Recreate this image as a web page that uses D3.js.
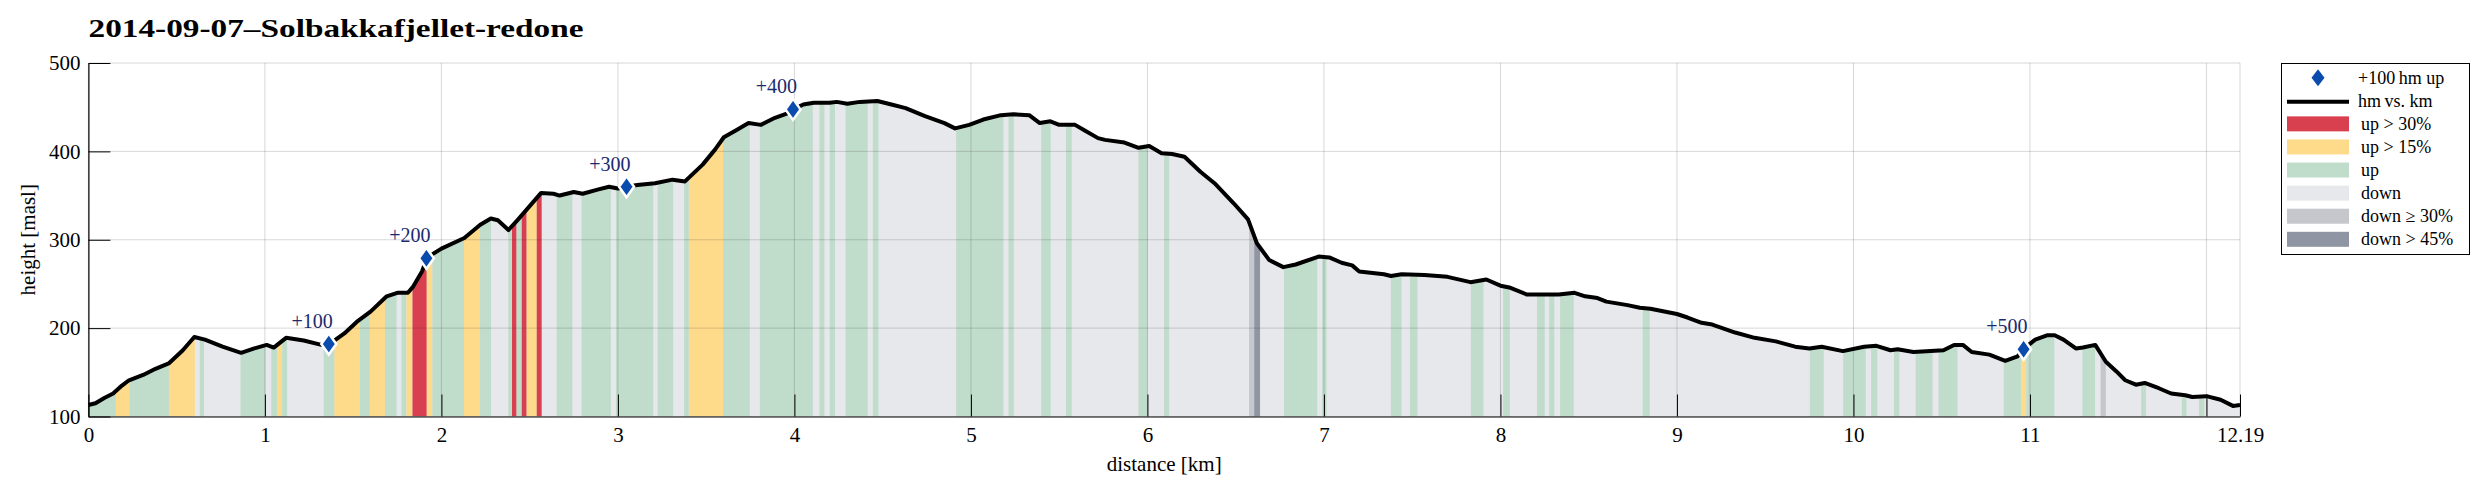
<!DOCTYPE html>
<html><head><meta charset="utf-8">
<script src="https://cdn.jsdelivr.net/npm/d3@7"></script>
<style>body{margin:0;background:#fff;} text{font-family:"Liberation Serif","DejaVu Serif",serif;}</style>
</head><body><svg id="c" width="2487" height="493"></svg>
<script>
// ---- data ----
const distKm = [0,0.04,0.09,0.14,0.19,0.23,0.31,0.38,0.455,0.535,0.60,0.66,0.76,0.865,0.94,1.01,1.05,1.12,1.22,1.32,1.36,1.45,1.52,1.60,1.69,1.75,1.81,1.84,1.89,1.92,2.00,2.13,2.22,2.28,2.32,2.38,2.43,2.50,2.565,2.635,2.67,2.75,2.80,2.89,2.95,3.00,3.05,3.11,3.21,3.31,3.38,3.48,3.55,3.60,3.67,3.74,3.81,3.89,3.96,3.99,4.05,4.11,4.20,4.24,4.30,4.37,4.47,4.55,4.63,4.74,4.85,4.91,4.99,5.07,5.17,5.24,5.33,5.39,5.45,5.50,5.59,5.65,5.72,5.76,5.87,5.95,6.01,6.08,6.14,6.21,6.30,6.38,6.49,6.57,6.62,6.69,6.77,6.84,6.97,7.03,7.10,7.16,7.20,7.34,7.38,7.44,7.57,7.70,7.83,7.92,8.00,8.05,8.15,8.24,8.33,8.42,8.48,8.55,8.60,8.72,8.79,8.85,9.00,9.06,9.14,9.20,9.33,9.44,9.56,9.67,9.75,9.82,9.94,10.06,10.13,10.21,10.25,10.34,10.51,10.57,10.62,10.67,10.77,10.86,10.93,10.96,11.03,11.10,11.14,11.19,11.26,11.30,11.37,11.43,11.49,11.54,11.60,11.65,11.73,11.80,11.88,11.92,12.00,12.08,12.15,12.19];
const heightM = [113,115,121,126,135,141,147,154,160,175,190,187,179,172,177,181,178,189,186,181,181,194,207,219,236,240,240,247,264,280,290,302,317,324,322,311,322,338,353,352,350,354,352,357,360,358,360,362,364,368,366,385,402,416,424,432,430,438,443,447,453,455,455,456,454,456,457,453,449,440,432,426,430,436,441,442,441,432,434,430,430,423,415,413,410,404,406,398,397,394,377,364,341,323,296,277,269,272,281,280,274,271,264,261,259,261,260,258,252,255,248,246,238,238,238,240,236,234,230,226,223,222,216,212,206,204,195,189,185,179,177,179,174,179,180,175,176,173,175,181,181,173,170,163,168,176,187,192,192,187,177,178,181,162,151,141,136,138,132,126,124,122,123,119,112,113];

const bandFrom = [0,0.156,0.232,0.456,0.631,0.862,1.036,1.07,1.098,1.333,1.394,1.537,1.595,1.68,1.774,1.802,1.836,1.917,1.949,2.128,2.219,2.379,2.40,2.426,2.455,2.483,2.54,2.653,2.794,2.989,3.225,3.375,3.402,3.596,3.804,4.142,4.20,4.29,4.444,4.916,5.213,5.398,5.539,5.949,6.094,6.576,6.605,6.774,6.99,7.379,7.487,7.832,8.015,8.207,8.276,8.338,8.806,9.753,9.942,10.10,10.23,10.352,10.482,10.851,10.951,10.979,11.297,11.40,11.63,11.86,11.958];
const bandTo   = [0.156,0.232,0.456,0.603,0.655,1.004,1.07,1.098,1.126,1.394,1.537,1.595,1.68,1.746,1.802,1.836,1.917,1.949,2.128,2.219,2.281,2.40,2.426,2.455,2.483,2.54,2.568,2.742,2.96,3.20,3.313,3.402,3.596,3.747,4.104,4.17,4.23,4.415,4.476,5.184,5.243,5.452,5.571,6.002,6.123,6.605,6.638,6.962,7.015,7.44,7.53,7.904,8.053,8.251,8.305,8.415,8.846,9.832,10.07,10.135,10.26,10.448,10.589,10.951,10.979,11.138,11.369,11.43,11.657,11.887,11.988];
const bandType = ["up","up15","up","up15","up","up","up","up15","up","up","up15","up","up15","up","up","up15","up30","up15","up","up15","up","up","up30","up","up30","up15","up30","up","up","up","up","up","up15","up","up","up","up","up","up","up","up","up","up","up","up","down30","down45","up","up","up","up","up","up","up","up","up","up","up","up","up","up","up","up","up","up15","up","up","down30","up","up","up"];

const markerKm = [1.362,1.915,3.049,3.992,10.964];
const markerH  = [182,279,360,447.5,176];
const markerLabel = ["+100","+200","+300","+400","+500"];

const xTicks = [0,1,2,3,4,5,6,7,8,9,10,11,12,12.19];
const xTickLabels = ["0","1","2","3","4","5","6","7","8","9","10","11","","12.19"];
const yTicks = [100,200,300,400,500];

const legendLabels = ["+100\u2009hm up","hm\u2009vs. km","up > 30%","up > 15%","up","down","down \u2265 30%","down > 45%"];
const legendKeys = ["marker","line","up30","up15","up","down","down30","down45"];

const colors = {up30:"#D9404F", up15:"#FEDA8B", up:"#C0DCCB", down:"#E7E8EB", down30:"#C5C7CD", down45:"#8F95A2"};

// ---- chart ----
const svg = d3.select("#c");
const x = d3.scaleLinear().domain([0,12.19]).range([88.4,2240]);
const y = d3.scaleLinear().domain([100,500]).range([416.5,63]);

const pts = distKm.map((d,i)=>[d,heightM[i]]);
const area = d3.area().x(d=>x(d[0])).y0(y(100)).y1(d=>y(d[1]));
const line = d3.line().x(d=>x(d[0])).y(d=>y(d[1]));

svg.append("defs").append("clipPath").attr("id","under").append("path").attr("d",area(pts));

const g = svg.append("g").attr("clip-path","url(#under)");
g.append("rect").attr("x",x(0)).attr("y",y(500)).attr("width",x(12.19)-x(0)).attr("height",y(100)-y(500)).attr("fill",colors.down);
g.selectAll("rect.band").data(bandFrom.map((f,i)=>({f,t:bandTo[i],c:bandType[i]}))).enter()
  .append("rect").attr("class","band")
  .attr("x",d=>x(d.f)).attr("width",d=>x(d.t)-x(d.f))
  .attr("y",y(500)).attr("height",y(100)-y(500))
  .attr("fill",d=>colors[d.c]);

// grid
const grid = svg.append("g").attr("stroke","#262626").attr("stroke-opacity",0.18).attr("stroke-width",1);
yTicks.forEach(t=>grid.append("line").attr("x1",x(0)).attr("x2",x(12.19)).attr("y1",y(t)).attr("y2",y(t)));
xTicks.forEach(t=>grid.append("line").attr("x1",x(t)).attr("x2",x(t)).attr("y1",y(500)).attr("y2",y(100)));

// profile line
svg.append("path").attr("d",line(pts)).attr("fill","none").attr("stroke","#000").attr("stroke-width",4).attr("stroke-linejoin","round");

// axes
const xAxis = d3.axisBottom(x).tickValues(xTicks).tickFormat((d,i)=>xTickLabels[i]).tickSizeInner(-22).tickSizeOuter(0).tickPadding(8);
const ax = svg.append("g").attr("transform",`translate(0,${y(100)})`).call(xAxis);
const yAxis = d3.axisLeft(y).tickValues(yTicks).tickFormat(d3.format("d")).tickSizeInner(-22).tickSizeOuter(0).tickPadding(8);
const ay = svg.append("g").attr("transform",`translate(${x(0)},0)`).call(yAxis);
[ax,ay].forEach(a=>{
  a.selectAll("text").attr("font-family","Liberation Serif").attr("font-size",21).attr("fill","#000");
  a.select(".domain").attr("stroke","#000").attr("stroke-width",1.2);
  a.selectAll(".tick line").attr("stroke","#000").attr("stroke-width",1);
});
ax.selectAll(".tick text").attr("dy","0.9em").attr("y",7);
ay.selectAll(".tick text").attr("x",-8);

// markers
const diamond = "M0,-10.5L7.5,0L0,10.5L-7.5,0Z";
const mk = svg.append("g");
markerKm.forEach((k,i)=>{
  mk.append("path").attr("d",diamond).attr("transform",`translate(${x(k)},${y(markerH[i])})`)
    .attr("fill","#0A4CAE").attr("stroke","#fff").attr("stroke-width",2.5);
  mk.append("text").attr("x",x(k)+4).attr("y",y(markerH[i])-16).attr("text-anchor","end")
    .attr("font-size",20).attr("fill","#1B2A6E").text(markerLabel[i]);
});

// titles
svg.append("text").attr("x",88.5).attr("y",37).attr("font-size",25).attr("font-weight","bold")
  .attr("textLength",495).attr("lengthAdjust","spacingAndGlyphs").text("2014-09-07\u2013Solbakkafjellet-redone");
svg.append("text").attr("x",(x(0)+x(12.19))/2).attr("y",471).attr("text-anchor","middle").attr("font-size",21).text("distance [km]");
svg.append("text").attr("transform",`translate(35,${(y(100)+y(500))/2}) rotate(-90)`).attr("text-anchor","middle").attr("font-size",21).text("height [masl]");

// legend
const lg = svg.append("g");
lg.append("rect").attr("x",2281.5).attr("y",63.5).attr("width",188).attr("height",191).attr("fill","#fff").attr("stroke","#000").attr("stroke-width",1);
const rowY = d3.scalePoint().domain(legendKeys).range([77.7,239.3]);
legendKeys.forEach((k,i)=>{
  const cy = rowY(k);
  if(k==="marker"){
    lg.append("path").attr("d","M0,-8.5L6.5,0L0,8.5L-6.5,0Z").attr("transform",`translate(2318,${cy})`).attr("fill","#0A4CAE");
  } else if(k==="line"){
    lg.append("line").attr("x1",2287).attr("x2",2349).attr("y1",cy+1).attr("y2",cy+1).attr("stroke","#000").attr("stroke-width",4);
  } else {
    lg.append("rect").attr("x",2287).attr("y",cy-7.5).attr("width",62).attr("height",15).attr("fill",colors[k]);
  }
  lg.append("text").attr("x",i<2?2358:2361).attr("y",cy+6).attr("font-size",18).text(legendLabels[i]);
});
</script></body></html>
